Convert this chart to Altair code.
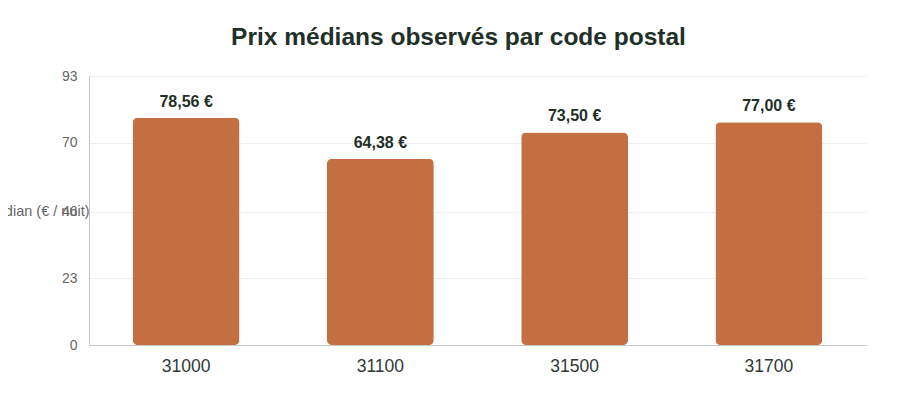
import altair as alt
import pandas as pd

codes = ["31000", "31100", "31500", "31700"]
prix = [78.56, 64.38, 73.50, 77.00]
y_ticks = [0, 23, 46, 70, 93]

df = pd.DataFrame({"code": codes, "prix": prix})

base = alt.Chart(df).encode(
    x=alt.X(
        "code:N",
        sort=codes,
        scale=alt.Scale(paddingInner=0.45, paddingOuter=0.225),
        axis=alt.Axis(
            title=None,
            labelAngle=0,
            labelFontSize=17.5,
            labelColor="#2f3a35",
            labelFont="Liberation Sans",
            labelPadding=12,
            ticks=False,
            domainColor="#c4c9c7",
            grid=False,
        ),
    ),
    y=alt.Y(
        "prix:Q",
        scale=alt.Scale(domain=[0, 93], nice=False),
        axis=alt.Axis(
            title="Prix médian (€ / nuit)",
            titleAngle=0,
            titleAlign="right",
            titleBaseline="middle",
            titleX=0,
            titleY=135,
            titleFontSize=14.5,
            titleFontWeight="normal",
            titleColor="#666666",
            titleFont="Liberation Sans",
            values=y_ticks,
            labelFontSize=14,
            labelColor="#666666",
            labelFont="Liberation Sans",
            labelPadding=12,
            ticks=False,
            domainColor="#c4c9c7",
            gridColor="#eeeeee",
        ),
    ),
)

bars = base.mark_bar(color="#C46F42", cornerRadius=5)

labels = base.transform_calculate(
    lbl="replace(format(datum.prix, '.2f'), '.', ',') + ' €'"
).mark_text(
    baseline="bottom",
    dy=-8,
    fontSize=16,
    fontWeight="bold",
    font="Liberation Sans",
    color="#1f3029",
).encode(text="lbl:N")

chart = (
    alt.layer(bars, labels)
    .properties(
        width=777,
        height=269,
        autosize=alt.AutoSizeParams(type="none"),
        padding={"left": 81, "top": 68, "right": 41, "bottom": 56},
        title=alt.TitleParams(
            "Prix médians observés par code postal",
            fontSize=24.5,
            fontWeight="bold",
            font="Liberation Sans",
            color="#1f3029",
            anchor="middle",
            dx=-19,
            offset=19,
        ),
    )
    .configure_view(stroke=None)
)

chart.save("out.html", embed_options={"renderer": "svg", "actions": False})
